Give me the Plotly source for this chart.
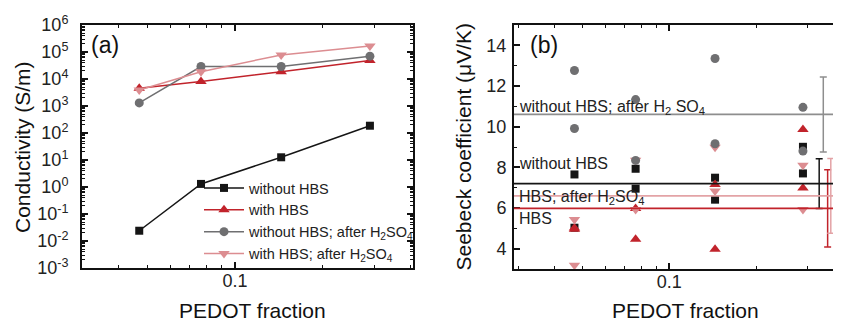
import plotly.graph_objects as go

# ---------------- data ----------------
pedot_frac = [0.047, 0.0765, 0.144, 0.29]

cond_without_hbs = [0.024, 1.3, 12.6, 186]
cond_with_hbs = [4500, 8000, 18600, 48000]
cond_without_hbs_acid = [1300, 29000, 29000, 70000]
cond_with_hbs_acid = [3900, 18600, 78000, 166000]

# two Seebeck measurements per PEDOT fraction
seebeck_x = [0.047, 0.047, 0.0765, 0.0765, 0.144, 0.144, 0.29, 0.29]
seebeck_without_hbs = [7.65, 5.03, 7.93, 6.95, 7.49, 6.41, 7.70, 9.01]
seebeck_with_hbs = [4.95, 5.02, 5.98, 4.46, 3.97, 7.16, 9.86, 6.98]
seebeck_without_hbs_acid = [12.76, 9.91, 11.33, 8.34, 13.35, 9.16, 10.95, 8.80]
seebeck_with_hbs_acid = [5.44, 3.19, 8.35, 5.93, 8.99, 6.83, 8.10, 5.93]

# mean lines and their standard deviations (order: without, with, without+acid, with+acid)
mean_labels = ["without HBS", "HBS", "without HBS; after H<sub>2</sub> SO<sub>4</sub>",
               "HBS; after H<sub>2</sub>SO<sub>4</sub>"]
mean_values = [7.2, 5.98, 10.6, 6.6]
mean_errors = [1.22, 1.9, 1.84, 1.84]
errbar_x = [0.330, 0.353, 0.341, 0.362]

legend_names = ["without HBS", "with HBS",
                "without HBS; after H<sub>2</sub>SO<sub>4</sub>",
                "with HBS; after H<sub>2</sub>SO<sub>4</sub>"]

# ---------------- style ----------------
C_BLACK = "#151515"
C_RED = "#c1232b"
C_GREY = "#6f6f71"
C_PINK = "#dc8d91"
C_GREY_LINE = "#8e8e8e"
C_PINK_LINE = "#e3a3a6"
FONT = "Liberation Sans, Arial, sans-serif"

# the page body has an 8px margin: figure occupies (8,8)..(841,322)
OFF = 8
W, H = 841 - OFF, 322 - OFF


def px(x):
    return (x - OFF) / W


def py(y):
    return 1 - (y - OFF) / H


fig = go.Figure()

series_l = [
    (cond_without_hbs, C_BLACK, "square", 8),
    (cond_with_hbs, C_RED, "triangle-up", 10),
    (cond_without_hbs_acid, C_GREY, "circle", 9),
    (cond_with_hbs_acid, C_PINK, "triangle-down", 10),
]
for (vals, col, sym, sz), name in zip(series_l, legend_names):
    fig.add_trace(go.Scatter(
        x=pedot_frac, y=vals, name=name, mode="lines+markers",
        line=dict(color=col, width=1.5),
        marker=dict(color=col, symbol=sym, size=sz),
        xaxis="x", yaxis="y"))

series_r = [
    (seebeck_without_hbs, C_BLACK, "square", 8),
    (seebeck_with_hbs, C_RED, "triangle-up", 10),
    (seebeck_with_hbs_acid, C_PINK, "triangle-down", 10),
    (seebeck_without_hbs_acid, C_GREY, "circle", 9),
]
for vals, col, sym, sz in series_r:
    fig.add_trace(go.Scatter(
        x=seebeck_x, y=vals, mode="markers", showlegend=False,
        marker=dict(color=col, symbol=sym, size=sz),
        xaxis="x2", yaxis="y2"))

line_cols = [C_BLACK, C_RED, C_GREY_LINE, C_PINK_LINE]
bar_cols = [C_BLACK, C_RED, C_GREY_LINE, C_PINK_LINE]
for m, e, xb, lc, bc in zip(mean_values, mean_errors, errbar_x, line_cols, bar_cols):
    fig.add_shape(type="line", xref="x2 domain", yref="y2", x0=0, x1=1, y0=m, y1=m,
                  line=dict(color=lc, width=1.8))
    fig.add_trace(go.Scatter(
        x=[xb], y=[m], mode="markers", showlegend=False,
        marker=dict(size=1, color=bc, opacity=0),
        error_y=dict(type="data", array=[e], visible=True, color=bc,
                     thickness=1.5, width=3.5),
        xaxis="x2", yaxis="y2"))

# label text next to the mean lines
label_y = [163.3, 218.3, 107.7, 197.7]
for lab, yp in zip(mean_labels, label_y):
    fig.add_annotation(text=lab, xref="paper", yref="paper",
                       x=px(517), y=py(yp), xanchor="left", yanchor="middle",
                       showarrow=False, font=dict(family=FONT, size=16, color="#222"))

# panel labels and axis titles
for txt, xp, yp in [("(a)", 89, 45), ("(b)", 528, 45)]:
    fig.add_annotation(text=txt, xref="paper", yref="paper", x=px(xp), y=py(yp),
                       xanchor="left", yanchor="middle", showarrow=False,
                       font=dict(family=FONT, size=23, color="#111"))
for txt, xp in [("PEDOT fraction", 252.5), ("PEDOT fraction", 685)]:
    fig.add_annotation(text=txt, xref="paper", yref="paper", x=px(xp), y=py(310),
                       xanchor="center", yanchor="middle", showarrow=False,
                       font=dict(family=FONT, size=21, color="#111"))
for txt, xp in [("Conductivity (S/m)", 22), ("Seebeck coefficient (μV/K)", 462.5)]:
    fig.add_annotation(text=txt, xref="paper", yref="paper", x=px(xp), y=py(147),
                       xanchor="center", yanchor="middle", textangle=-90, showarrow=False,
                       font=dict(family=FONT, size=21, color="#111"))

minor_x = [0.03, 0.04, 0.05, 0.06, 0.07, 0.08, 0.09, 0.2, 0.3, 0.4]
minor_y_log = [k * 10 ** d for d in range(-3, 6) for k in range(2, 10)]
dec_vals = [10 ** d for d in range(-3, 7)]
dec_text = ["10<sup>%d</sup>" % d for d in range(-3, 7)]

axis_common = dict(showgrid=False, zeroline=False, showline=True, linecolor="#111",
                   linewidth=2, ticks="inside", tickcolor="#111", tickwidth=1.5, ticklen=6,
                   automargin=False,
                   tickfont=dict(family=FONT, size=18, color="#222"))

fig.update_layout(
    width=W, height=H, margin=dict(l=0, r=0, t=0, b=0, autoexpand=False),
    paper_bgcolor="white", plot_bgcolor="white",
    xaxis=dict(axis_common, type="log", domain=[px(82), px(413)], range=[-1.524, -0.390],
               tickvals=[0.1], ticktext=["0.1"], mirror="allticks", anchor="y",
               ticklabelstandoff=-5,
               minor=dict(tickvals=minor_x, ticks="inside", ticklen=3, tickwidth=1.2,
                          tickcolor="#111")),
    yaxis=dict(axis_common, type="log", domain=[py(268), py(25)], range=[-3, 6],
               tickvals=dec_vals, ticktext=dec_text, mirror="allticks", anchor="x",
               ticklabelstandoff=8,
               minor=dict(tickvals=minor_y_log, ticks="inside", ticklen=3, tickwidth=1,
                          tickcolor="#111")),
    xaxis2=dict(axis_common, type="log", domain=[px(514), 1.0], range=[-1.537, -0.406],
                tickvals=[0.1], ticktext=["0.1"], mirror="allticks", anchor="y2",
                ticklabelstandoff=-5,
                minor=dict(tickvals=minor_x, ticks="inside", ticklen=3, tickwidth=1.2,
                           tickcolor="#111")),
    yaxis2=dict(axis_common, domain=[py(269), py(25)], range=[3, 15],
                tick0=4, dtick=2, anchor="x2", mirror=False, ticklabelstandoff=2,
                minor=dict(dtick=1, tick0=3, ticks="inside", ticklen=3, tickwidth=1.2,
                           tickcolor="#111")),
    legend=dict(x=px(199), y=py(172), xanchor="left", yanchor="top",
                bgcolor="rgba(0,0,0,0)", borderwidth=0, tracegroupgap=0, itemwidth=40,
                font=dict(family=FONT, size=14.5, color="#222")),
    showlegend=True,
)

fig.write_html("out.html")
